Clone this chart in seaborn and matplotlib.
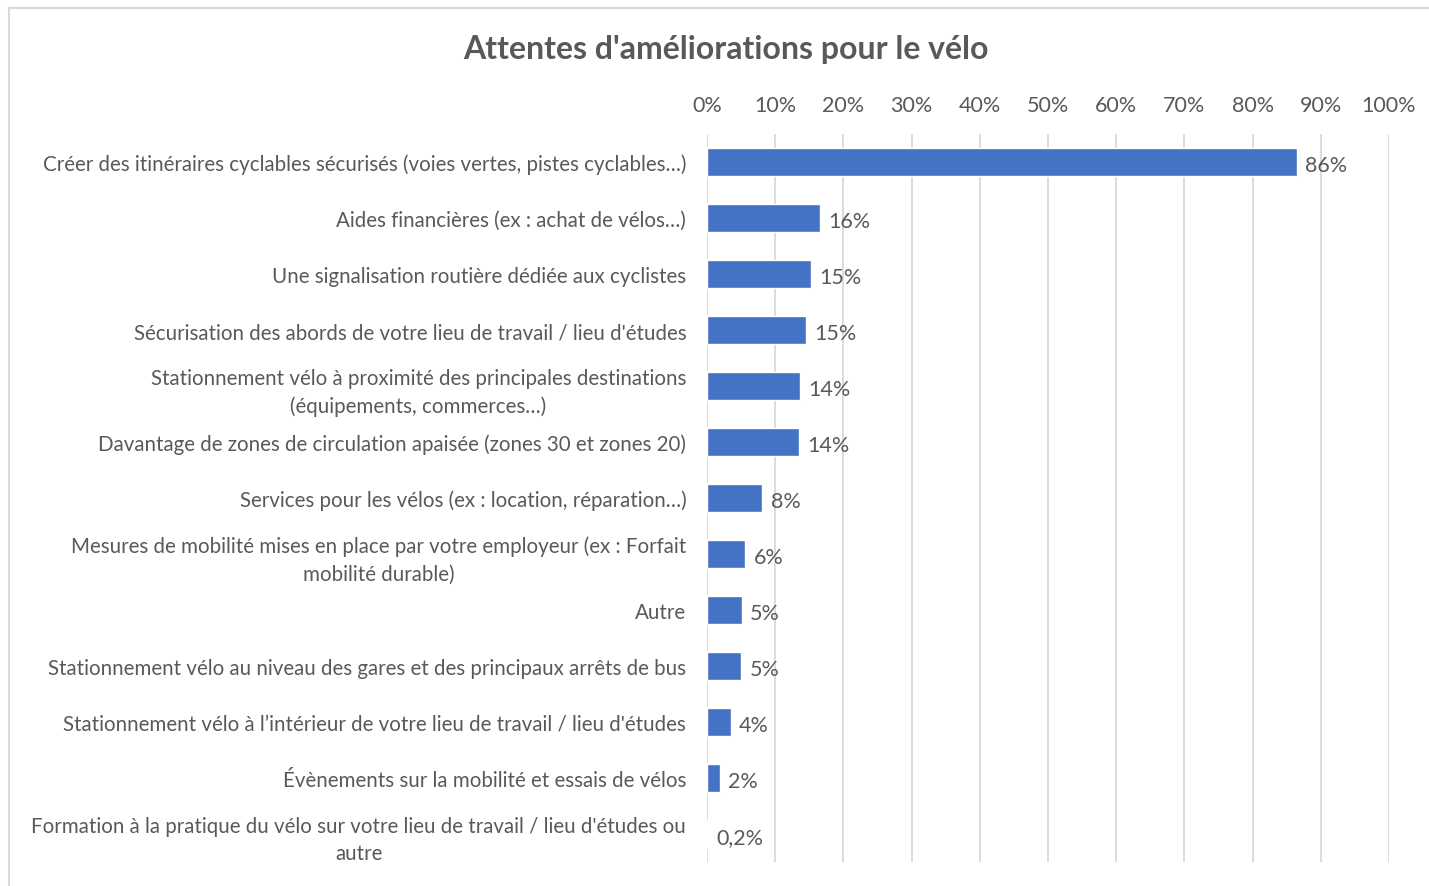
import pandas as pd
import seaborn as sns
import matplotlib.pyplot as plt
from matplotlib.patches import Rectangle

# data
categories = [
    "Créer des itinéraires cyclables sécurisés (voies vertes, pistes cyclables…)",
    "Aides financières (ex : achat de vélos…)",
    "Une signalisation routière dédiée aux cyclistes",
    "Sécurisation des abords de votre lieu de travail / lieu d'études",
    "Stationnement vélo à proximité des principales destinations\n(équipements, commerces…)",
    "Davantage de zones de circulation apaisée (zones 30 et zones 20)",
    "Services pour les vélos (ex : location, réparation…)",
    "Mesures de mobilité mises en place par votre employeur (ex : Forfait\nmobilité durable)",
    "Autre",
    "Stationnement vélo au niveau des gares et des principaux arrêts de bus",
    "Stationnement vélo à l’intérieur de votre lieu de travail / lieu d'études",
    "Évènements sur la mobilité et essais de vélos",
    "Formation à la pratique du vélo sur votre lieu de travail / lieu d'études ou\nautre",
]
values = [0.865, 0.166, 0.152, 0.145, 0.136, 0.135, 0.081, 0.056, 0.051, 0.050, 0.035, 0.019, 0.002]
value_labels = ["86%", "16%", "15%", "15%", "14%", "14%", "8%", "6%", "5%", "5%", "4%", "2%", "0,2%"]
x_ticks = [0, 0.1, 0.2, 0.3, 0.4, 0.5, 0.6, 0.7, 0.8, 0.9, 1.0]

TEXT = "#595959"
BLUE = "#4472C4"


def create_plot():
    sns.set_style("white")
    plt.rcParams['font.family'] = ['Lato', 'DejaVu Sans']

    df = pd.DataFrame({"categorie": categories, "valeur": values})

    fig = plt.figure(figsize=(14.29, 8.87), dpi=100)
    ax = fig.add_axes([707 / 1429, 1 - 863 / 887, (1389 - 707) / 1429, (863 - 135) / 887])
    ax.set_axisbelow(True)

    sns.barplot(data=df, x="valeur", y="categorie", orient="h", color=BLUE,
                saturation=1, width=0.5, ax=ax, zorder=3)

    ax.set_xlim(0, 1)
    ax.set_xticks(x_ticks)
    ax.set_xticklabels([f"{int(round(t * 100))}%" for t in x_ticks])
    ax.xaxis.tick_top()
    ax.grid(axis="x", color="#d9d9d9", linewidth=1.3, zorder=0)
    ax.tick_params(axis="x", length=0, pad=14, labelsize=15.5, labelcolor=TEXT)
    ax.tick_params(axis="y", length=0, pad=15, labelsize=14.8, labelcolor=TEXT)
    for lbl in ax.get_yticklabels():
        lbl.set_multialignment("center")
        lbl.set_linespacing(1.45)
    ax.set_xlabel("")
    ax.set_ylabel("")
    for s in ax.spines.values():
        s.set_visible(False)

    for bar, txt in zip(ax.patches, value_labels):
        ax.annotate(txt, (bar.get_width(), bar.get_y() + bar.get_height() / 2),
                    xytext=(6, -2), textcoords="offset points",
                    ha="left", va="center", fontsize=15.5, color=TEXT)

    fig.text(726 / 1429, 1 - 50 / 887, "Attentes d'améliorations pour le vélo",
             ha="center", va="center", fontsize=23, fontweight="bold", color=TEXT)

    # chart frame
    fig.patches.append(Rectangle((9 / 1429, -0.05), 1.1, 1 - 9 / 887 + 0.05,
                                 transform=fig.transFigure, fill=False,
                                 edgecolor="#d9d9d9", linewidth=1.5))

    fig.savefig("out.png", dpi=100)


if __name__ == "__main__":
    create_plot()
